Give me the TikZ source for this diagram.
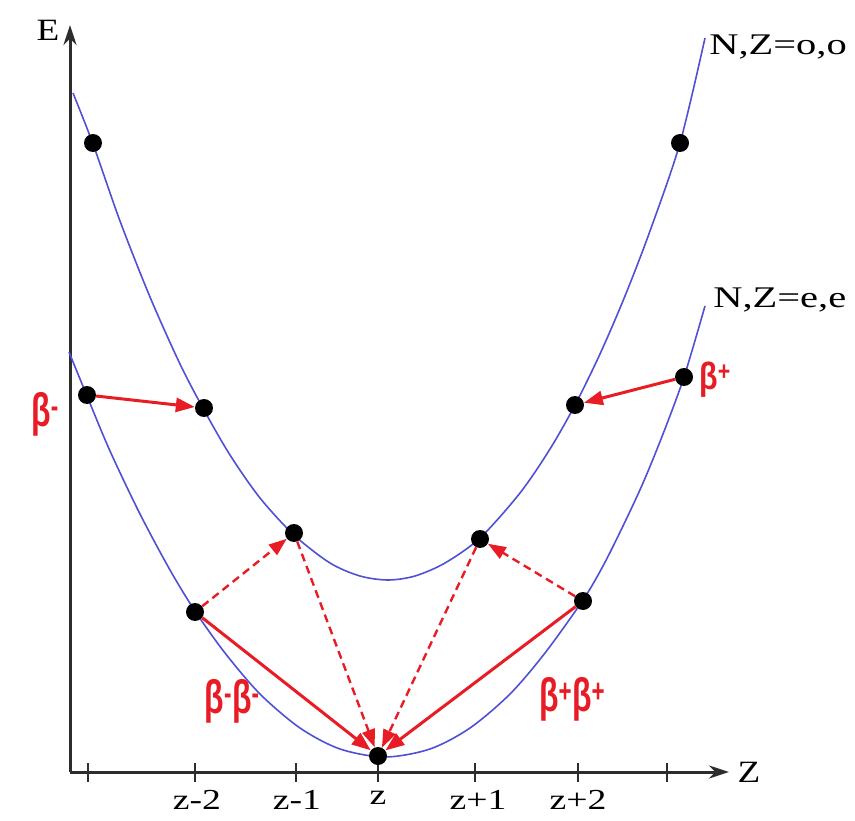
\documentclass[tikz,border=0pt]{standalone}
\usepackage{fontspec}
\setmainfont{Liberation Serif}
\setsansfont{Liberation Sans}
\usetikzlibrary{arrows.meta}
\definecolor{curveblue}{RGB}{80,80,215}
\definecolor{betared}{RGB}{232,28,36}
\definecolor{axisgray}{RGB}{45,45,45}
\tikzset{
  dot/.style={circle,fill=black,inner sep=0pt,minimum size=18pt},
  curve/.style={curveblue,line width=1.6pt},
  axisline/.style={axisgray,line width=3pt,-{Stealth[length=20pt,width=13pt]}},
  tickline/.style={axisgray,line width=1.5pt},
  solidarrow/.style={betared,line width=3pt,-{Triangle[length=19pt,width=14pt]}},
  dasharrow/.style={betared,line width=2.4pt,dash pattern=on 8pt off 5pt,-{Triangle[length=18pt,width=13pt]}},
  ticklabel/.style={font=\fontsize{29}{33}\selectfont,xscale=1.3,inner sep=0pt},
  curvelabel/.style={font=\fontsize{30}{34}\selectfont,xscale=1.35,inner sep=0pt,anchor=west},
  betalabel/.style={betared,font=\sffamily\bfseries\fontsize{47}{50}\selectfont,xscale=0.68,inner sep=0pt},
  betasmall/.style={betared,font=\sffamily\bfseries\fontsize{38}{42}\selectfont,xscale=0.8,inner sep=0pt},
}
\begin{document}
\begin{tikzpicture}[x=1pt,y=-1pt]
\useasboundingbox (0,0) rectangle (855,821);
% axes
\coordinate (O) at (70,772);
\coordinate (Ytop) at (70,25);
\coordinate (Xend) at (729,772);
\draw[axisline] (O) -- (Ytop);
\draw[axisline] (O) -- (Xend);
\foreach \tx in {88,195,296,378,475,578,667}
  \draw[tickline] (\tx,763) -- (\tx,782);
\node[font=\fontsize{31}{34}\selectfont,xscale=1.2,inner sep=0pt] (Elab) at (48,30) {E};
\node[font=\fontsize{31}{34}\selectfont,xscale=1.2,inner sep=0pt] (Zlab) at (749,772) {Z};
\node[ticklabel] (t1) at (197,800) {z-2};
\node[ticklabel] (t2) at (297,800) {z-1};
\node[ticklabel] (t3) at (378,798) {z};
\node[ticklabel] (t4) at (478,800) {z+1};
\node[ticklabel] (t5) at (578,800) {z+2};
% curves
\draw[curve] plot[smooth,tension=0.5] coordinates {(73,93) (93,144) (120,221) (150,297) (180,364) (204,410) (230,455) (260,498) (294,535) (330,563) (360,576) (388,580) (415,576) (445,563) (480,538) (520,493) (550,449) (575,405) (600,354) (625,296) (650,231) (680,143) (705,38)};
\draw[curve] plot[smooth,tension=0.5] coordinates {(69,352) (87,396) (110,451) (140,514) (170,570) (195,611) (225,653) (260,694) (300,728) (340,749) (385,757) (430,749) (470,728) (510,694) (545,653) (583,600) (603,566) (623,526) (643,483) (663,434) (684,377) (705,306)};
\node[curvelabel] (oo) at (709,47) {N,Z=o,o};
\node[curvelabel] (ee) at (713,300) {N,Z=e,e};
% dots
\node[dot] (u1) at (93,143) {};
\node[dot] (u2) at (204,408) {};
\node[dot] (u3) at (294,533) {};
\node[dot] (u4) at (480,539) {};
\node[dot] (u5) at (575,405) {};
\node[dot] (u6) at (680,143) {};
\node[dot] (l1) at (87,395) {};
\node[dot] (l2) at (195,612) {};
\node[dot] (l3) at (378,756) {};
\node[dot] (l4) at (583,601) {};
\node[dot] (l5) at (684,377) {};
% arrows
\draw[solidarrow] (l1) -- (u2);
\draw[solidarrow] (l5) -- (u5);
\draw[dasharrow] (l2) -- (u3);
\draw[dasharrow] (u3) -- (l3);
\draw[dasharrow] (l4) -- (u4);
\draw[dasharrow] (u4) -- (l3);
\draw[solidarrow] (l2) -- (l3);
\draw[solidarrow] (l4) -- (l3);
% beta labels
\node[betalabel] (bm) at (45,414) {β\textsuperscript{-}};
\node[betasmall] (bp) at (715,380) {β\textsuperscript{+}};
\node[betalabel] (bmm) at (232,701) {β\textsuperscript{-}β\textsuperscript{-}};
\node[betalabel] (bpp) at (572,699) {β\textsuperscript{+}β\textsuperscript{+}};
\end{tikzpicture}
\end{document}
